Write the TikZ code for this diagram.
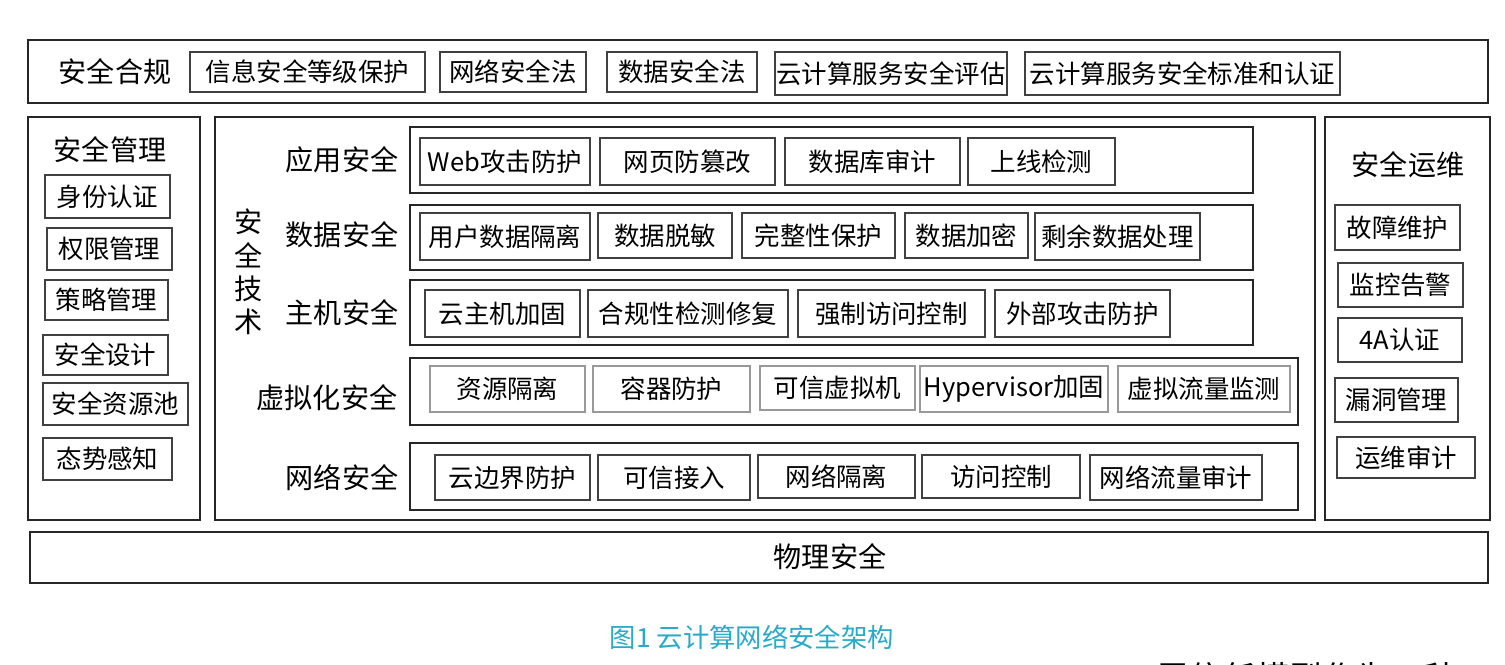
\documentclass[tikz,border=0pt]{standalone}
\usepackage{fontspec}
\setmainfont{Liberation Serif}
\newfontfamily\cjk{Noto Sans CJK SC}
\newcommand{\cbox}[7][bx]{%
  \node[#1, minimum width={(#4-#2)*0.02cm}, minimum height={(#5-#3)*0.02cm}]
    (#7) at ({(#2+#4)/2},{(#3+#5)/2}) {#6};}
\begin{document}
\begin{tikzpicture}[x=0.02cm, y=-0.02cm]
	\tikzset{bx/.style={draw=black!75, line width=0.9pt, inner sep=0pt, font=\cjk\fontsize{14.5pt}{17pt}\selectfont},
		gbx/.style={bx, draw=black!40},
		frm/.style={draw=black!85, line width=1.2pt},
		lb/.style={font=\cjk\fontsize{16pt}{19pt}\selectfont}};
	\useasboundingbox (0,0) rectangle (1505,665);
	\clip (0,0) rectangle (1505,665);

	% top row
	\draw[frm] (28,40) rectangle (1488,103);
	\node[lb] (hg) at (115,72) {安全合规};
	\cbox{190}{52}{425}{92}{信息安全等级保护}{hg1}
	\cbox{440}{52}{586}{92}{网络安全法}{hg2}
	\cbox{607}{52}{757}{92}{数据安全法}{hg3}
	\cbox{775}{52}{1007}{95}{云计算服务安全评估}{hg4}
	\cbox{1025}{52}{1340}{95}{云计算服务安全标准和认证}{hg5}

	% left column
	\draw[frm] (28,117) rectangle (200,520);
	\node[lb] (gl) at (110,150) {安全管理};
	\cbox{45}{175}{170}{218}{身份认证}{gl1}
	\cbox{47}{228}{172}{270}{权限管理}{gl2}
	\cbox{45}{280}{168}{320}{策略管理}{gl3}
	\cbox{43}{335}{168}{375}{安全设计}{gl4}
	\cbox{43}{383}{188}{425}{安全资源池}{gl5}
	\cbox{43}{438}{172}{480}{态势感知}{gl6}

	% middle
	\draw[frm] (215,117) rectangle (1315,520);
	\node[lb, align=center, text width=1em] (js) at (243,272) {安\\全\\技\\术};
	\node[lb] (yy) at (342,160) {应用安全};
	\node[lb] (sj) at (342,235) {数据安全};
	\node[lb] (zj) at (342,313) {主机安全};
	\node[lb] (xn) at (327,398) {虚拟化安全};
	\node[lb] (wl) at (342,478) {网络安全};
	\draw[frm] (410,127) rectangle (1253,193);
	\draw[frm] (410,205) rectangle (1253,270);
	\draw[frm] (410,280) rectangle (1253,345);
	\draw[frm] (410,358) rectangle (1298,425);
	\draw[frm] (410,443) rectangle (1298,510);

	\cbox{420}{138}{590}{185}{Web攻击防护}{yy1}
	\cbox{600}{138}{775}{185}{网页防篡改}{yy2}
	\cbox{785}{138}{960}{185}{数据库审计}{yy3}
	\cbox{968}{138}{1115}{185}{上线检测}{yy4}

	\cbox{420}{213}{590}{260}{用户数据隔离}{sj1}
	\cbox{598}{213}{732}{258}{数据脱敏}{sj2}
	\cbox{742}{213}{895}{258}{完整性保护}{sj3}
	\cbox{905}{213}{1028}{258}{数据加密}{sj4}
	\cbox{1035}{213}{1200}{260}{剩余数据处理}{sj5}

	\cbox{425}{290}{580}{337}{云主机加固}{zj1}
	\cbox{588}{290}{788}{337}{合规性检测修复}{zj2}
	\cbox{798}{290}{985}{337}{强制访问控制}{zj3}
	\cbox{995}{290}{1170}{337}{外部攻击防护}{zj4}

	\cbox[gbx]{430}{366}{585}{412}{资源隔离}{xn1}
	\cbox[gbx]{593}{366}{750}{412}{容器防护}{xn2}
	\cbox[gbx]{760}{366}{915}{410}{可信虚拟机}{xn3}
	\cbox[gbx]{920}{366}{1108}{412}{Hypervisor加固}{xn4}
	\cbox[gbx]{1118}{366}{1290}{412}{虚拟流量监测}{xn5}

	\cbox{435}{455}{590}{500}{云边界防护}{wl1}
	\cbox{598}{455}{750}{500}{可信接入}{wl2}
	\cbox{758}{455}{915}{498}{网络隔离}{wl3}
	\cbox{922}{455}{1080}{498}{访问控制}{wl4}
	\cbox{1090}{455}{1262}{500}{网络流量审计}{wl5}

	% right column
	\draw[frm] (1325,117) rectangle (1490,520);
	\node[lb] (yw) at (1408,165) {安全运维};
	\cbox{1335}{205}{1460}{250}{故障维护}{yw1}
	\cbox{1338}{263}{1463}{307}{监控告警}{yw2}
	\cbox{1338}{318}{1462}{362}{4A认证}{yw3}
	\cbox{1335}{378}{1458}{422}{漏洞管理}{yw4}
	\cbox{1337}{437}{1475}{478}{运维审计}{yw5}

	% bottom
	\draw[frm] (30,532) rectangle (1488,583);
	\node[lb] (wlaq) at (830,557) {物理安全};

	\node[font=\cjk\fontsize{15pt}{18pt}\selectfont, text={rgb,255:red,40;green,170;blue,200}] (cap) at (752,637) {图1 云计算网络安全架构};
	\node[font=\cjk\fontsize{19pt}{22pt}\selectfont, anchor=west] (tail) at (1150,678) {零信任模型作为一种};
\end{tikzpicture}
\end{document}
